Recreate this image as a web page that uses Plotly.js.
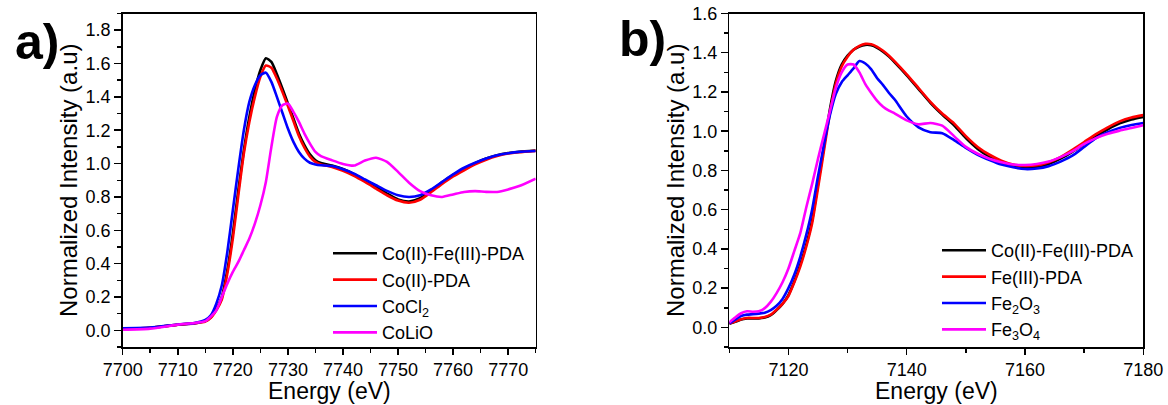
<!DOCTYPE html>
<html>
<head>
<meta charset="utf-8">
<script src="https://cdn.plot.ly/plotly-3.0.1.min.js"></script>
<style>
  html, body { margin: 0; padding: 0; background: #ffffff; }
  #chart { width: 1168px; height: 405px; }
</style>
</head>
<body>
<div id="chart"></div>
<script>
// ---------- Panel a: Co K-edge ----------
const energyA = [7700, 7705, 7710, 7713, 7715, 7716, 7717, 7718, 7719, 7720, 7721, 7722, 7723, 7724, 7725, 7726, 7727, 7728, 7729, 7730, 7731, 7732, 7733, 7734, 7735, 7736, 7738, 7740, 7742, 7744, 7746, 7748, 7750, 7752, 7754, 7756, 7758, 7760, 7762, 7764, 7766, 7768, 7770, 7772, 7775];
const coFePdaA = [0.010, 0.015, 0.034, 0.042, 0.055, 0.080, 0.130, 0.200, 0.360, 0.580, 0.840, 1.080, 1.280, 1.440, 1.560, 1.632, 1.610, 1.535, 1.450, 1.360, 1.270, 1.180, 1.110, 1.055, 1.020, 1.003, 0.988, 0.967, 0.937, 0.900, 0.860, 0.820, 0.785, 0.772, 0.792, 0.838, 0.888, 0.933, 0.970, 1.003, 1.030, 1.050, 1.063, 1.071, 1.078];
const coPdaA = [0.010, 0.015, 0.033, 0.041, 0.052, 0.075, 0.120, 0.185, 0.340, 0.550, 0.810, 1.060, 1.250, 1.400, 1.520, 1.588, 1.575, 1.510, 1.430, 1.345, 1.255, 1.165, 1.095, 1.042, 1.010, 0.995, 0.980, 0.957, 0.927, 0.890, 0.850, 0.810, 0.778, 0.765, 0.783, 0.828, 0.878, 0.923, 0.960, 0.995, 1.023, 1.045, 1.060, 1.068, 1.076];
const coCl2A = [0.012, 0.016, 0.035, 0.043, 0.062, 0.090, 0.160, 0.270, 0.470, 0.720, 0.970, 1.200, 1.370, 1.470, 1.530, 1.545, 1.490, 1.400, 1.305, 1.210, 1.130, 1.070, 1.030, 1.005, 0.995, 0.990, 0.985, 0.966, 0.940, 0.905, 0.870, 0.836, 0.810, 0.800, 0.810, 0.845, 0.890, 0.935, 0.975, 1.005, 1.030, 1.050, 1.062, 1.070, 1.075];
const coLiOA = [0.003, 0.010, 0.034, 0.044, 0.055, 0.082, 0.120, 0.200, 0.280, 0.350, 0.410, 0.480, 0.550, 0.640, 0.750, 0.890, 1.100, 1.280, 1.350, 1.360, 1.310, 1.250, 1.180, 1.120, 1.070, 1.045, 1.020, 0.998, 0.988, 1.018, 1.035, 1.010, 0.950, 0.885, 0.835, 0.810, 0.800, 0.815, 0.830, 0.835, 0.830, 0.830, 0.845, 0.865, 0.910];
const namesA = ['Co(II)-Fe(III)-PDA', 'Co(II)-PDA', 'CoCl<sub>2</sub>', 'CoLiO'];

// ---------- Panel b: Fe K-edge ----------
const energyB = [7110, 7111, 7112, 7113, 7114, 7115, 7116, 7117, 7118, 7119, 7120, 7121, 7122, 7123, 7124, 7125, 7126, 7127, 7128, 7129, 7130, 7131, 7132, 7133, 7134, 7135, 7136, 7137, 7138, 7140, 7142, 7144, 7146, 7148, 7150, 7152, 7154, 7156, 7158, 7160, 7162, 7164, 7166, 7168, 7170, 7172, 7174, 7176, 7178, 7180];
const coFePdaB = [0.018, 0.028, 0.040, 0.045, 0.046, 0.046, 0.050, 0.062, 0.088, 0.120, 0.165, 0.235, 0.320, 0.420, 0.545, 0.730, 0.920, 1.110, 1.255, 1.340, 1.385, 1.415, 1.432, 1.440, 1.438, 1.425, 1.405, 1.380, 1.350, 1.285, 1.215, 1.145, 1.085, 1.030, 0.965, 0.910, 0.870, 0.840, 0.822, 0.815, 0.818, 0.833, 0.860, 0.895, 0.935, 0.975, 1.010, 1.040, 1.060, 1.073];
const fePdaB = [0.020, 0.030, 0.042, 0.048, 0.048, 0.048, 0.053, 0.065, 0.090, 0.120, 0.160, 0.230, 0.310, 0.410, 0.530, 0.710, 0.900, 1.090, 1.240, 1.330, 1.380, 1.415, 1.435, 1.445, 1.443, 1.430, 1.410, 1.385, 1.355, 1.290, 1.220, 1.150, 1.090, 1.040, 0.975, 0.920, 0.880, 0.850, 0.830, 0.823, 0.826, 0.842, 0.868, 0.905, 0.945, 0.985, 1.020, 1.050, 1.070, 1.082];
const fe2o3B = [0.020, 0.040, 0.058, 0.065, 0.067, 0.070, 0.075, 0.088, 0.110, 0.145, 0.200, 0.270, 0.360, 0.470, 0.600, 0.770, 0.930, 1.080, 1.190, 1.250, 1.285, 1.320, 1.358, 1.345, 1.315, 1.270, 1.235, 1.195, 1.160, 1.075, 1.020, 0.995, 0.990, 0.955, 0.915, 0.880, 0.853, 0.830, 0.816, 0.807, 0.810, 0.822, 0.845, 0.875, 0.920, 0.965, 0.995, 1.017, 1.032, 1.042];
const fe3o4B = [0.025, 0.050, 0.072, 0.082, 0.080, 0.082, 0.098, 0.130, 0.175, 0.230, 0.300, 0.390, 0.480, 0.610, 0.730, 0.860, 0.980, 1.100, 1.220, 1.300, 1.340, 1.340, 1.300, 1.240, 1.195, 1.155, 1.125, 1.105, 1.090, 1.055, 1.035, 1.042, 1.028, 0.975, 0.920, 0.885, 0.860, 0.842, 0.830, 0.828, 0.833, 0.845, 0.868, 0.897, 0.935, 0.965, 0.987, 1.003, 1.016, 1.030];
const namesB = ['Co(II)-Fe(III)-PDA', 'Fe(III)-PDA', 'Fe<sub>2</sub>O<sub>3</sub>', 'Fe<sub>3</sub>O<sub>4</sub>'];

const xTitle = 'Energy (eV)';
const yTitle = 'Normalized Intensity (a.u)';

const colors = ['#000000', '#ff0000', '#0000ff', '#ff00ff'];
const FONT = 'Liberation Sans, Arial, sans-serif';

const seriesA = [coFePdaA, coPdaA, coCl2A, coLiOA];
const seriesB = [coFePdaB, fePdaB, fe2o3B, fe3o4B];

const traces = [];
seriesA.forEach((ys, i) => traces.push({
  x: energyA, y: ys, name: namesA[i], type: 'scatter', mode: 'lines',
  line: { color: colors[i], width: 2.6, shape: 'spline', smoothing: 0.6 },
  xaxis: 'x', yaxis: 'y', legend: 'legend'
}));
seriesB.forEach((ys, i) => traces.push({
  x: energyB, y: ys, name: namesB[i], type: 'scatter', mode: 'lines',
  line: { color: colors[i], width: 2.6, shape: 'spline', smoothing: 0.6 },
  xaxis: 'x2', yaxis: 'y2', legend: 'legend2'
}));

const W = 1168, H = 405;
const px = v => v / W;
const py = v => 1 - v / H;

function axisBase(extra) {
  return Object.assign({
    showline: true, linecolor: '#000', linewidth: 1.5, mirror: true,
    ticks: 'outside', ticklen: 7, tickwidth: 1.5, tickcolor: '#000',
    showgrid: false, zeroline: false,
    tickfont: { family: FONT, size: 18, color: '#000' }
  }, extra);
}

const domA = [px(122.7), px(535.7)];
const domB = [px(729.3), px(1143.3)];

const layout = {
  width: W, height: H,
  margin: { l: 0, r: 0, t: 0, b: 0 },
  paper_bgcolor: '#fff', plot_bgcolor: '#fff',
  font: { family: FONT, color: '#000' },
  showlegend: true,
  xaxis: axisBase({
    domain: domA, anchor: 'y', range: [7700, 7775],
    tick0: 7700, dtick: 10, ticklen: 6,
    minor: { dtick: 5, ticks: 'outside', ticklen: 4, tickwidth: 1.5, tickcolor: '#000' }
  }),
  yaxis: axisBase({
    domain: [py(347), py(13.5)], anchor: 'x', range: [-0.1, 1.9],
    tick0: 0, dtick: 0.2, tickformat: '.1f',
    minor: { dtick: 0.1, ticks: 'outside', ticklen: 4, tickwidth: 1.5, tickcolor: '#000' },
    title: { text: yTitle, font: { family: FONT, size: 24, color: '#000' }, standoff: 1 }
  }),
  xaxis2: axisBase({
    domain: domB, anchor: 'y2', range: [7110, 7180],
    tick0: 7120, dtick: 20, ticklen: 6,
    minor: { dtick: 10, ticks: 'outside', ticklen: 4, tickwidth: 1.5, tickcolor: '#000' }
  }),
  yaxis2: axisBase({
    domain: [py(347), py(13.5)], anchor: 'x2', range: [-0.1, 1.6],
    tick0: 0, dtick: 0.2, tickformat: '.1f',
    minor: { dtick: 0.1, ticks: 'outside', ticklen: 4, tickwidth: 1.5, tickcolor: '#000' },
    title: { text: yTitle, font: { family: FONT, size: 24, color: '#000' }, standoff: 1 }
  }),
  legend: {
    x: px(328), xanchor: 'left', y: py(235), yanchor: 'top',
    bgcolor: 'rgba(0,0,0,0)', borderwidth: 0,
    font: { family: FONT, size: 18, color: '#000' },
    itemwidth: 44, tracegroupgap: 0
  },
  legend2: {
    x: px(937), xanchor: 'left', y: py(232), yanchor: 'top',
    bgcolor: 'rgba(0,0,0,0)', borderwidth: 0,
    font: { family: FONT, size: 18, color: '#000' },
    itemwidth: 44, tracegroupgap: 0
  },
  annotations: [
    { text: xTitle, xref: 'paper', yref: 'paper', x: (domA[0] + domA[1]) / 2, y: 0,
      xanchor: 'center', yanchor: 'bottom', showarrow: false, borderpad: 0,
      font: { family: FONT, size: 23, color: '#000' } },
    { text: xTitle, xref: 'paper', yref: 'paper', x: (domB[0] + domB[1]) / 2, y: 0,
      xanchor: 'center', yanchor: 'bottom', showarrow: false, borderpad: 0,
      font: { family: FONT, size: 23, color: '#000' } },
    { text: '<b>a)</b>', xref: 'paper', yref: 'paper', x: px(37), y: py(42),
      xanchor: 'center', yanchor: 'middle', showarrow: false,
      font: { family: FONT, size: 50, color: '#000' } },
    { text: '<b>b)</b>', xref: 'paper', yref: 'paper', x: px(642), y: py(39),
      xanchor: 'center', yanchor: 'middle', showarrow: false,
      font: { family: FONT, size: 50, color: '#000' } }
  ]
};

Plotly.newPlot('chart', traces, layout, { displayModeBar: false, staticPlot: true });
</script>
</body>
</html>
